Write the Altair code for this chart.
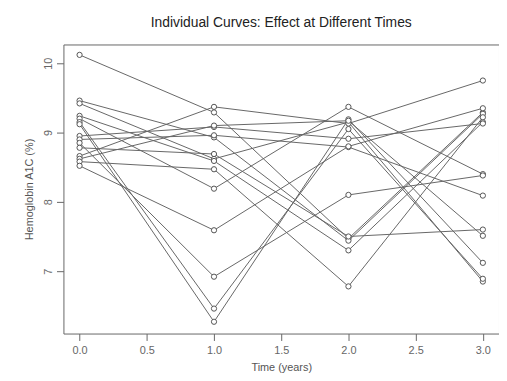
import altair as alt
import pandas as pd

subjects = list(range(1, 16))
times = [0, 1, 2, 3]
t0 = [10.12, 9.46, 9.42, 9.24, 9.20, 9.15, 9.12, 8.95, 8.90, 8.85, 8.78, 8.66, 8.62, 8.58, 8.52]
t1 = [9.29, 8.93, 8.62, 8.59, 8.19, 6.46, 6.27, 9.08, 8.96, 6.92, 8.69, 9.37, 9.10, 8.47, 7.59]
t2 = [7.47, 7.44, 9.15, 7.30, 9.37, 9.05, 9.19, 8.91, 8.79, 8.10, 7.50, 9.13, 9.17, 6.78, 8.80]
t3 = [9.29, 9.27, 6.85, 9.15, 8.40, 6.89, 7.12, 9.13, 8.09, 8.38, 7.60, 9.75, 7.51, 9.22, 9.35]
x_ticks = [0.0, 0.5, 1.0, 1.5, 2.0, 2.5, 3.0]
y_ticks = [7, 8, 9, 10]

rows = []
for i, s in enumerate(subjects):
    for t, vals in zip(times, [t0, t1, t2, t3]):
        rows.append({"subject": s, "time": t, "a1c": vals[i]})
df = pd.DataFrame(rows)

FONT = "Liberation Sans"

x = alt.X("time:Q",
          scale=alt.Scale(domain=[-0.12, 3.12], nice=False, zero=False),
          axis=alt.Axis(values=x_ticks, format=".1f", title="Time (years)",
                        domain=False, grid=False, tickSize=7, tickColor="#666",
                        labelPadding=4, titlePadding=6))
y = alt.Y("a1c:Q",
          scale=alt.Scale(domain=[6.1, 10.27], nice=False, zero=False),
          axis=alt.Axis(values=y_ticks, format="d", title="Hemoglobin A1C (%)",
                        domain=False, grid=False, tickSize=7, tickColor="#666",
                        labelAngle=-90, labelAlign="center", labelBaseline="bottom",
                        labelPadding=3, titlePadding=8))

base = alt.Chart(df)
lines = base.mark_line(color="#666", strokeWidth=1).encode(x=x, y=y, detail="subject:N")
points = base.mark_point(shape="circle", filled=True, fill="white", stroke="#555",
                         strokeWidth=1, size=28, opacity=1).encode(x=x, y=y)

chart = (lines + points).properties(
    width=440, height=292,
    padding={"left": 56, "top": 35, "right": 0, "bottom": 38},
    autosize=alt.AutoSizeParams(type="none"),
    title=alt.TitleParams("Individual Curves: Effect at Different Times",
                          fontSize=14, fontWeight="normal", font=FONT,
                          color="#222", anchor="middle", offset=15),
).configure_view(stroke="#666", strokeWidth=1).configure_axis(
    labelFont=FONT, titleFont=FONT, labelFontSize=11, titleFontSize=11,
    labelColor="#666", titleColor="#555", titleFontWeight="normal"
)

chart.save("out.html", embed_options={"renderer": "svg", "actions": False})
